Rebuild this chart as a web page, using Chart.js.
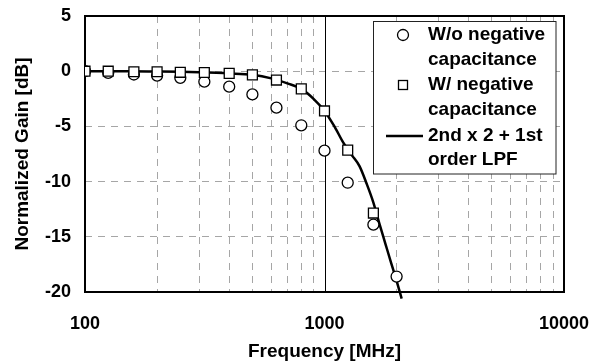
<!DOCTYPE html>
<html>
<head>
<meta charset="utf-8">
<script src="https://cdn.jsdelivr.net/npm/chart.js@4.4.0/dist/chart.umd.min.js"></script>
<style>
  html, body { margin: 0; padding: 0; background: #fff; }
  #wrap { width: 594px; height: 363px; position: relative; }
</style>
</head>
<body>
<div id="wrap"><canvas id="gainChart"></canvas></div>
<script>
// measured points [MHz] and gains [dB]
const measFreq = [100, 125, 160, 200, 250, 315, 400, 500, 630, 800, 1000, 1250, 1600, 2000];
const gainWithout = [0, -0.15, -0.3, -0.4, -0.6, -0.95, -1.4, -2.1, -3.3, -4.9, -7.2, -10.1, -13.9, -18.6];
const gainWith = [0, 0, -0.05, -0.05, -0.1, -0.12, -0.2, -0.33, -0.8, -1.6, -3.6, -7.15, -12.85];

// fitted LPF curve
const fitFreq = [100, 150, 200, 250, 300, 400, 500, 600, 700, 800, 900, 1000, 1100, 1200, 1300, 1400, 1500, 1600, 1700, 1800, 1900, 2000, 2100];
const fitGain = [0, 0, -0.03, -0.06, -0.1, -0.2, -0.33, -0.65, -1.1, -1.6, -2.5, -3.6, -5.0, -6.5, -7.6, -8.6, -10.2, -11.9, -13.9, -15.7, -17.4, -19.0, -20.6];

const xTicks = [100, 200, 300, 400, 500, 600, 700, 800, 900, 1000, 2000, 3000, 4000, 5000, 6000, 7000, 8000, 9000, 10000];
const xLabels = [100, 1000, 10000];
const yTicks = [5, 0, -5, -10, -15, -20];

const FONT = '"Liberation Sans", Arial, sans-serif';

// frame round the plot + solid line at 1000 MHz
const framePlugin = {
  id: 'frame',
  beforeDatasetsDraw(chart) {
    const { ctx, chartArea: a, scales } = chart;
    ctx.save();
    ctx.strokeStyle = '#000';
    ctx.lineWidth = 1;
    const x1000 = Math.round(scales.x.getPixelForValue(1000)) + 0.5;
    ctx.beginPath();
    ctx.moveTo(x1000, a.top);
    ctx.lineTo(x1000, a.bottom);
    ctx.stroke();
    ctx.lineWidth = 2;
    ctx.strokeRect(a.left, a.top, a.right - a.left, a.bottom - a.top);
    ctx.restore();
  }
};

// legend box drawn by hand (labels wrap onto two lines)
const legendPlugin = {
  id: 'boxLegend',
  afterDraw(chart) {
    const ctx = chart.ctx;
    ctx.save();
    ctx.fillStyle = '#fff';
    ctx.fillRect(373.5, 21.5, 182.5, 152.5);
    ctx.strokeStyle = '#222';
    ctx.lineWidth = 1;
    ctx.strokeRect(373.5, 21.5, 182.5, 152.5);

    ctx.lineWidth = 1.3;
    ctx.strokeStyle = '#000';
    ctx.beginPath();
    ctx.arc(403, 35, 5.5, 0, Math.PI * 2);
    ctx.stroke();
    ctx.strokeRect(398.5, 80.5, 9, 9);
    ctx.lineWidth = 2.5;
    ctx.beginPath();
    ctx.moveTo(386, 136);
    ctx.lineTo(423, 136);
    ctx.stroke();

    ctx.fillStyle = '#000';
    ctx.font = 'bold 19px ' + FONT;
    ctx.textBaseline = 'middle';
    ctx.textAlign = 'left';
    const rows = [['W/o negative', 35], ['capacitance', 60], ['W/ negative', 85],
                  ['capacitance', 110], ['2nd x 2 + 1st', 136], ['order LPF', 160]];
    rows.forEach(r => ctx.fillText(r[0], 428, r[1]));
    ctx.restore();
  }
};

const markerStyle = {
  showLine: false,
  backgroundColor: '#fff',
  borderColor: '#000',
  pointBackgroundColor: '#fff',
  pointBorderColor: '#000',
  pointBorderWidth: 1.3
};

const noPad = s => { s.paddingLeft = 0; s.paddingRight = 0; s.paddingTop = 0; s.paddingBottom = 0; };

new Chart(document.getElementById('gainChart'), {
  type: 'line',
  data: {
    datasets: [
      Object.assign({
        label: 'W/ negative capacitance',
        data: gainWith.map((g, i) => ({ x: measFreq[i], y: g })),
        pointStyle: 'rect',
        pointRadius: 7,
        order: 0
      }, markerStyle),
      Object.assign({
        label: 'W/o negative capacitance',
        data: gainWithout.map((g, i) => ({ x: measFreq[i], y: g })),
        pointStyle: 'circle',
        pointRadius: 5.5,
        order: 1
      }, markerStyle),
      {
        label: '2nd x 2 + 1st order LPF',
        data: fitGain.map((g, i) => ({ x: fitFreq[i], y: g })),
        borderColor: '#000',
        borderWidth: 2.5,
        pointRadius: 0,
        cubicInterpolationMode: 'monotone',
        clip: false,
        order: 2
      }
    ]
  },
  options: {
    responsive: true,
    maintainAspectRatio: false,
    animation: false,
    layout: { padding: { top: 16, right: 30, left: 0, bottom: 0 } },
    plugins: { legend: { display: false }, tooltip: { enabled: false } },
    scales: {
      x: {
        type: 'logarithmic',
        min: 100,
        max: 10000,
        afterBuildTicks: s => { s.ticks = xTicks.map(v => ({ value: v })); },
        afterFit: s => { s.height = 71; noPad(s); },
        ticks: {
          autoSkip: false,
          maxRotation: 0,
          padding: 21,
          color: '#000',
          font: { family: FONT, size: 18, weight: 'bold' },
          callback: v => xLabels.includes(v) ? String(v) : ''
        },
        grid: {
          drawTicks: false,
          lineWidth: 1,
          color: c => (c.tick && [100, 1000, 10000].includes(c.tick.value)) ? 'rgba(0,0,0,0)' : '#a6a6a6'
        },
        border: { display: false, dash: [7, 6] },
        title: {
          display: true,
          text: 'Frequency [MHz]',
          color: '#000',
          font: { family: FONT, size: 19, weight: 'bold' },
          padding: { top: 0, bottom: 0 }
        }
      },
      y: {
        min: -20,
        max: 5,
        afterBuildTicks: s => { s.ticks = yTicks.map(v => ({ value: v })); },
        afterFit: s => { s.width = 85; noPad(s); },
        ticks: {
          padding: 14,
          color: '#000',
          font: { family: FONT, size: 18, weight: 'bold' }
        },
        grid: {
          drawTicks: false,
          lineWidth: 1,
          color: c => (c.tick && (c.tick.value === 5 || c.tick.value === -20)) ? 'rgba(0,0,0,0)' : '#a6a6a6'
        },
        border: { display: false, dash: [7, 6] },
        title: {
          display: true,
          text: 'Normalized Gain [dB]',
          color: '#000',
          font: { family: FONT, size: 19, weight: 'bold' },
          padding: { top: 11, bottom: 0 }
        }
      }
    }
  },
  plugins: [framePlugin, legendPlugin]
});
</script>
</body>
</html>
